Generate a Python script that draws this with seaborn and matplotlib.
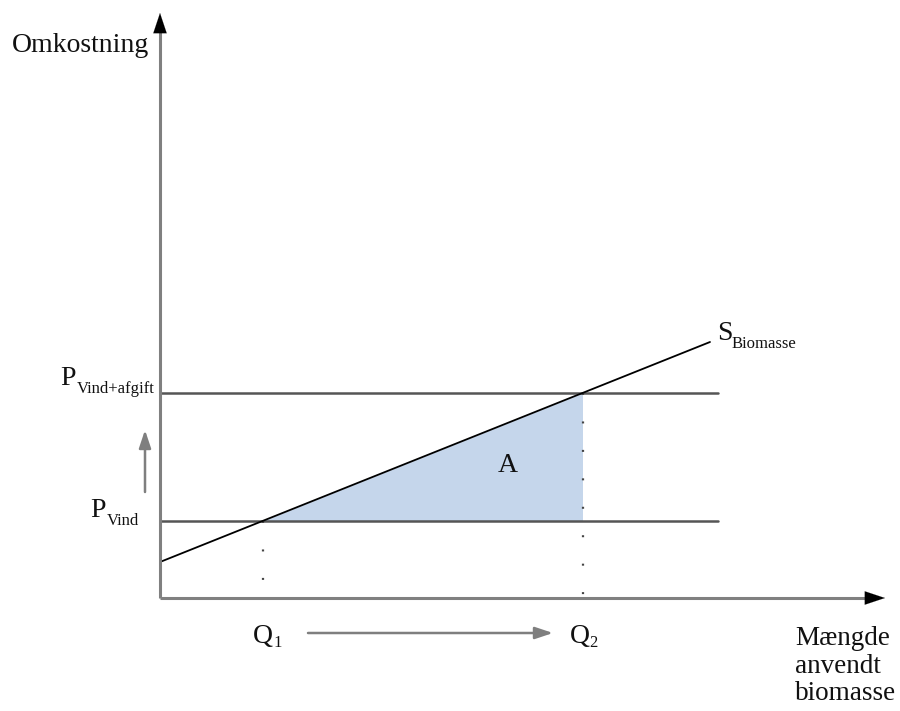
import matplotlib
matplotlib.use("Agg")
import matplotlib.pyplot as plt
import seaborn as sns
import numpy as np
import pandas as pd

# ---- data (schematic units; origin at axes crossing) ----
supply_intercept = 36.0      # cost at zero quantity
supply_slope = 0.40          # cost increase per unit quantity
supply_q_end = 550.0         # where the supply line stops
p_vind = 77.0                # price of wind power
p_vind_afgift = 205.0        # price of wind power + tax
price_line_end = 558.0       # horizontal price lines end
x_axis_len = 725.0
y_axis_len = 585.0

q1 = (p_vind - supply_intercept) / supply_slope
q2 = (p_vind_afgift - supply_intercept) / supply_slope

sns.set_theme(style="white")
plt.rcParams['font.family'] = ['Liberation Serif', 'DejaVu Serif']

fig = plt.figure(figsize=(9, 7.11), dpi=100)
ax = fig.add_axes([0, 0, 1, 1])
ax.set_xlim(-160, 740)
ax.set_ylim(-113, 598)
ax.axis("off")

# shaded area A
qq = np.linspace(q1, q2, 100)
ax.fill_between(qq, p_vind, supply_intercept + supply_slope * qq,
                color="#c5d6eb", lw=0, zorder=1)

# price lines
prices = pd.DataFrame({
    "q": [0, price_line_end, 0, price_line_end],
    "p": [p_vind, p_vind, p_vind_afgift, p_vind_afgift],
    "line": ["vind", "vind", "afgift", "afgift"],
})
sns.lineplot(data=prices, x="q", y="p", units="line", estimator=None,
             color="#555555", lw=1.8, ax=ax, zorder=2)

# supply line
supply = pd.DataFrame({"q": [0, supply_q_end],
                       "p": [supply_intercept, supply_intercept + supply_slope * supply_q_end]})
sns.lineplot(data=supply, x="q", y="p", color="black", lw=1.3, ax=ax, zorder=3)

# dotted guides
dots = (0, (0.9, 11.9))
ax.plot([q1, q1], [p_vind, 0], color="#444444", lw=1.6, ls=dots, zorder=2)
ax.plot([q2, q2], [p_vind_afgift, 0], color="#444444", lw=1.6, ls=dots, zorder=2)

# axes lines + black arrow heads
ax.plot([0, x_axis_len - 10], [0, 0], color="#808080", lw=2.2, solid_capstyle="butt", zorder=4)
ax.plot([0, 0], [0, y_axis_len - 10], color="#808080", lw=2.2, solid_capstyle="butt", zorder=4)
head = dict(arrowstyle="-|>,head_length=1.2,head_width=0.4",
            color="black", lw=0.1, shrinkA=0, shrinkB=0)
ax.annotate("", xy=(x_axis_len, 0), xytext=(x_axis_len - 18, 0), arrowprops=head, zorder=5)
ax.annotate("", xy=(0, y_axis_len), xytext=(0, y_axis_len - 18), arrowprops=head, zorder=5)

# movement arrows
move = dict(arrowstyle="-|>,head_length=0.9,head_width=0.3",
            color="#7f7f7f", lw=1.8, shrinkA=0, shrinkB=0)
ax.annotate("", xy=(-15, 168), xytext=(-15, 106), arrowprops=move)
ax.annotate("", xy=(393, -35), xytext=(148, -35), arrowprops=move)

# labels
big = 20
small = 12
tc = "#111111"
ax.text(-148, 553, "Omkostning", fontsize=big, ha="left", va="center", color=tc)
ax.text(-100, 213, "P", fontsize=big, ha="left", va="baseline", color=tc)
ax.text(-83, 205, "Vind+afgift", fontsize=small, ha="left", va="baseline", color=tc)
ax.text(-70, 81, "P", fontsize=big, ha="left", va="baseline", color=tc)
ax.text(-53, 73, "Vind", fontsize=small, ha="left", va="baseline", color=tc)
ax.text(93, -45, "Q", fontsize=big, ha="left", va="baseline", color=tc)
ax.text(113, -49, "1", fontsize=small, ha="left", va="baseline", color=tc)
ax.text(410, -45, "Q", fontsize=big, ha="left", va="baseline", color=tc)
ax.text(429, -49, "2", fontsize=small, ha="left", va="baseline", color=tc)
ax.text(557, 258, "S", fontsize=big, ha="left", va="baseline", color=tc)
ax.text(572, 250, "Biomasse", fontsize=small, ha="left", va="baseline", color=tc)
ax.text(348, 132, "A", fontsize=big, ha="center", va="center", color=tc)
for word, yb in zip(["Mængde", "anvendt", "biomasse"], [-47, -75, -102]):
    ax.text(635, yb, word, fontsize=19.5, ha="left", va="baseline", color=tc)

fig.savefig("out.png", dpi=100)
